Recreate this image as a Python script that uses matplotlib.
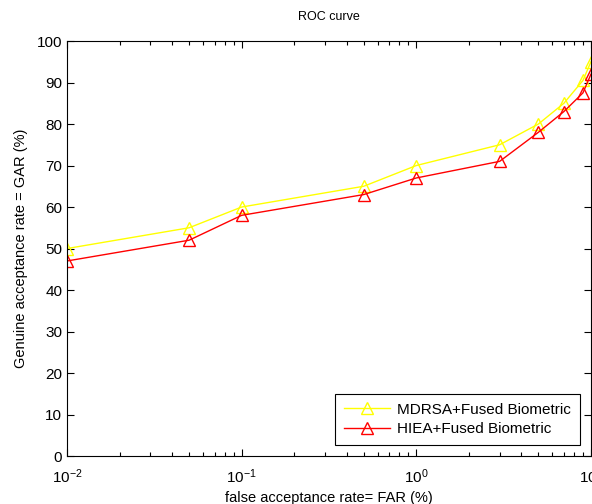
import numpy as np
import matplotlib
matplotlib.use("Agg")
import matplotlib.pyplot as plt
from matplotlib import ticker

plt.rcParams['font.family'] = ['Liberation Sans', 'DejaVu Sans']

# --- data ---
far = [0.01, 0.05, 0.1, 0.5, 1, 3, 5, 7, 9, 10]
gar_mdrsa = [50, 55, 60, 65, 70, 75, 80, 85, 90.5, 95]
gar_hiea = [47, 52, 58, 63, 67, 71, 78, 83, 87.5, 92]
labels = ['MDRSA+Fused Biometric', 'HIEA+Fused Biometric']
y_ticks = list(range(0, 101, 10))

fig = plt.figure(figsize=(5.92, 5.04), dpi=100)
ax = fig.add_axes([0.1132, 0.0952, 0.885, 0.8234])

ax.plot(far, gar_mdrsa, color='#ffff00', lw=1, marker='^', ms=8,
        mfc='none', mec='#ffff00', mew=1, label=labels[0])
ax.plot(far, gar_hiea, color='#ff0000', lw=1, marker='^', ms=8,
        mfc='none', mec='#ff0000', mew=1, label=labels[1])

ax.set_xscale('log')
ax.set_xlim(0.01, 10)
ax.set_ylim(0, 100)
ax.set_yticks(y_ticks)
ax.xaxis.set_major_locator(ticker.LogLocator(base=10))
ax.xaxis.set_minor_locator(ticker.LogLocator(base=10, subs=np.arange(2, 10)))
ax.xaxis.set_minor_formatter(ticker.NullFormatter())

ax.tick_params(which='both', direction='in', top=True, right=True,
               labelsize=11, colors='black', width=0.8)
ax.tick_params(which='major', length=5)
ax.tick_params(which='minor', length=3)
ax.tick_params(axis='x', which='major', pad=8)
for s in ax.spines.values():
    s.set_linewidth(0.8)

ax.set_title('ROC curve', fontsize=9, pad=15)
ax.set_xlabel('false acceptance rate= FAR (%)', fontsize=10.5, labelpad=4)
ax.set_ylabel('Genuine acceptance rate = GAR (%)', fontsize=10.5, labelpad=6)

leg = ax.legend(loc='lower right', fontsize=11, fancybox=False,
                edgecolor='black', framealpha=1, borderaxespad=0.7,
                handlelength=3, borderpad=0.6, labelspacing=0.35,
                handletextpad=0.5)
leg.get_frame().set_linewidth(0.8)

fig.savefig('out.png', dpi=100)
